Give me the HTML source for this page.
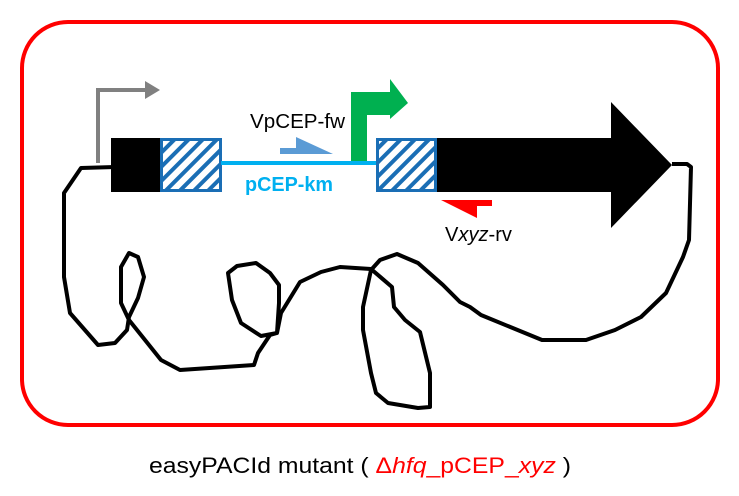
<!DOCTYPE html>
<html><head><meta charset="utf-8"><style>
html,body{margin:0;padding:0;background:#fff;}
svg{display:block;}
text{font-family:"Liberation Sans",Arial,sans-serif;}
</style></head><body>
<svg width="739" height="496" viewBox="0 0 739 496" xmlns="http://www.w3.org/2000/svg">
<defs>
<pattern id="h" patternUnits="userSpaceOnUse" width="10" height="10" patternTransform="rotate(45)">
<rect width="10" height="10" fill="#fff"/>
<rect x="0" y="0" width="4" height="10" fill="#1a6eb5"/>
</pattern>
</defs>
<rect x="22" y="22" width="696" height="403" rx="46" ry="46" fill="none" stroke="#f00" stroke-width="4"/>
<polyline fill="none" stroke="#000" stroke-width="4" stroke-linejoin="round" points="115,167 81,168 64,193 64,277 70,313 98,345 115,343 127,330 129,317 138,298 144,277 138,257 129,253 121,267 121,303 129,320 161,360 180,370 254,365 258,353 270,335 277,333 279,303 279,285 270,273 256,263 237,266 228,273 232,300 241,323 261,336 277,333 281,313 300,282 321,272 340,267 371,269 392,287 394,307 405,320 420,332 430,373 430,407 418,408 388,403 376,393 371,373 363,330 363,307 371,270 380,260 397,254 418,263 443,285 460,302 470,307 481,315 542,340 586,340 615,330 641,317 666,293 683,257 689,240 691,167 687,164 672,164"/>
<polyline points="98,163 98,90 147,90" fill="none" stroke="#808080" stroke-width="4"/>
<polygon points="145,81 160,90 145,99" fill="#808080"/>
<rect x="111" y="138" width="50" height="54" fill="#000"/>
<rect x="161.5" y="139.5" width="59" height="51" fill="url(#h)" stroke="#1a6eb5" stroke-width="3"/>
<line x1="221" y1="163" x2="377" y2="163" stroke="#00b0f0" stroke-width="4"/>
<polygon points="351,161 351,92 390,92 390,79 408,103 390,119 390,115 367,115 367,161" fill="#00b050"/>
<rect x="377.5" y="139.5" width="58" height="51" fill="url(#h)" stroke="#1a6eb5" stroke-width="3"/>
<polygon points="437,138 611,138 611,102 672,165 611,228 611,192 437,192" fill="#000"/>
<polygon points="280,148 296,148 296,137 333,154 280,154" fill="#5b9bd5"/>
<polygon points="441,200 492,200 492,206 477,206 477,218" fill="#f00"/>
<text x="250" y="128" font-size="20" fill="#000" textLength="95" lengthAdjust="spacingAndGlyphs">VpCEP-fw</text>
<text x="245" y="191" font-size="20" font-weight="bold" fill="#00b0f0" textLength="88" lengthAdjust="spacingAndGlyphs">pCEP-km</text>
<text x="445" y="241" font-size="20" fill="#000" textLength="67" lengthAdjust="spacingAndGlyphs">V<tspan font-style="italic">xyz</tspan>-rv</text>
<text x="149" y="473" font-size="22" fill="#000" textLength="422" lengthAdjust="spacingAndGlyphs">easyPACId mutant ( <tspan fill="#f00">Δ<tspan font-style="italic">hfq</tspan>_pCEP_<tspan font-style="italic">xyz</tspan></tspan> )</text>
</svg>
</body></html>
